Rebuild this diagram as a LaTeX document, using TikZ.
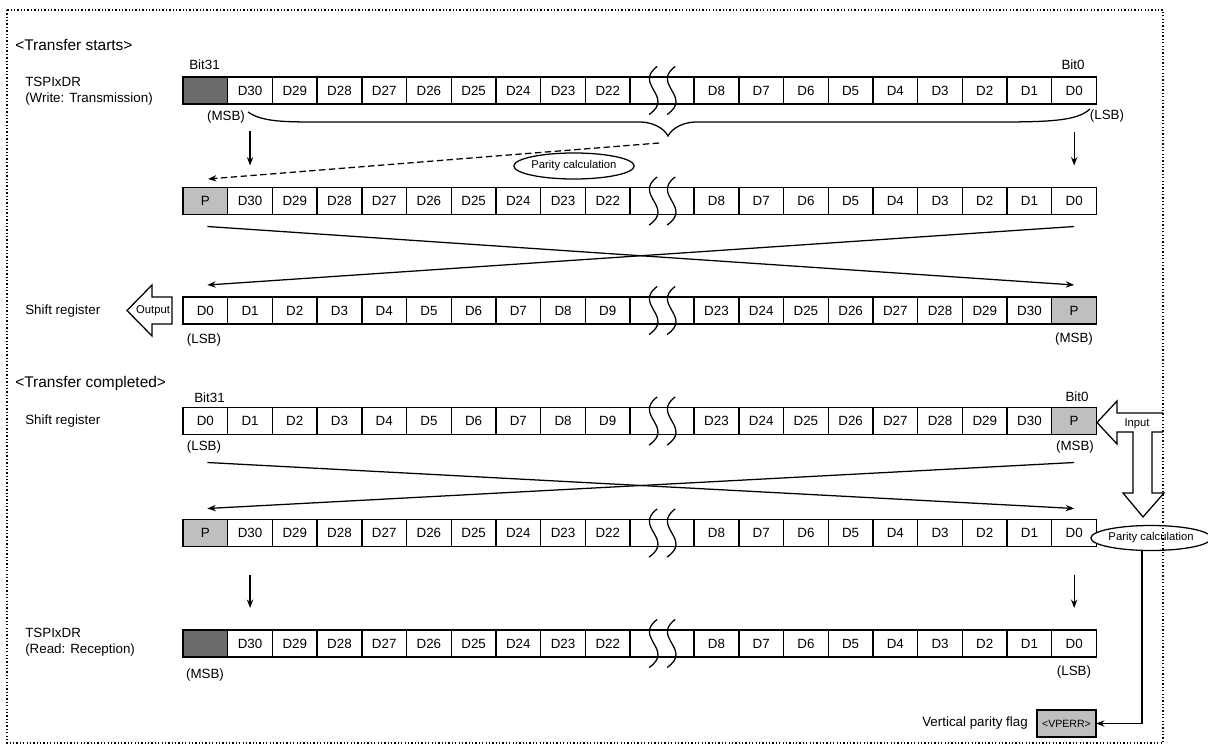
\documentclass[tikz,border=0pt]{standalone}
\usepackage{fontspec}
\setmainfont{Liberation Sans}
\usetikzlibrary{arrows.meta,positioning,shapes.geometric,calc}

\begin{document}
\begin{tikzpicture}[
   x=0.025cm, y=-0.025cm,
   every node/.style={font=\fontsize{9.5}{11.4}\selectfont, inner sep=0pt},
   cell/.style={draw, line width=0.95pt, fill=white, minimum width=1.1175cm,
                minimum height=0.675cm, inner sep=0pt, outer sep=0pt},
   dcell/.style={cell, fill=black!58},
   pcell/.style={cell, fill=black!25},
   gapcell/.style={cell, minimum width=1.6cm},
   head/.style={font=\fontsize{11}{13}\selectfont, anchor=west},
   lbl/.style={anchor=west, align=left},
   small/.style={font=\fontsize{8}{9.6}\selectfont},
   parcalc/.style={draw, ellipse, line width=0.9pt, fill=white, minimum width=2.7cm,
                   minimum height=0.65cm, inner sep=0pt, font=\fontsize{8}{9.6}\selectfont},
   ln/.style={line width=0.9pt},
   arr/.style={ln, -{Stealth[length=6pt, width=4.5pt]}},
   hollow/.style={ln, fill=white, line join=miter}
]
\useasboundingbox (0,0) rectangle (1208,754);

% Transfer starts: data register
\node[head] (start) at (15,45) {<Transfer starts>};
\node[lbl] (txreg) at (25,91) {TSPIxDR\\(Write: Transmission)};
\node[dcell] (a0) at (205.35,90.5) {};
\foreach \t [count=\i, remember=\i as \j (initially 0)] in {D30,D29,D28,D27,D26,D25,D24,D23,D22}
  \node[cell, right=0pt of a\j] (a\i) {\t};
\node[gapcell, right=0pt of a9] (a10) {};
\foreach \t [count=\i from 11, remember=\i as \j (initially 10)] in {D8,D7,D6,D5,D4,D3,D2,D1,D0}
  \node[cell, right=0pt of a\j] (a\i) {\t};
\node[anchor=west] (bitA) at (189,65) {Bit31};
\node (bitA0) at (1073,65) {Bit0};
\node (msbA) at (226,117) {(MSB)};
\node (lsbA) at (1107,116) {(LSB)};
\draw[ln] (248,112) .. controls (262,122) and (285,122) .. (320,122) -- (640,122)
   .. controls (652,122) and (664,128) .. (668,136)
   .. controls (672,128) and (684,122) .. (696,122) -- (1000,122)
   .. controls (1055,122) and (1078,120) .. (1090,109);

% Parity added
\draw[arr, dash pattern=on 4.5pt off 2.5pt] (659,143) -- (208,179);
\node[parcalc] (pcA) at (574,166) {Parity calculation};
\node[pcell] (b0) at (205.35,201) {P};
\foreach \t [count=\i, remember=\i as \j (initially 0)] in {D30,D29,D28,D27,D26,D25,D24,D23,D22}
  \node[cell, right=0pt of b\j] (b\i) {\t};
\node[gapcell, right=0pt of b9] (b10) {};
\foreach \t [count=\i from 11, remember=\i as \j (initially 10)] in {D8,D7,D6,D5,D4,D3,D2,D1,D0}
  \node[cell, right=0pt of b\j] (b\i) {\t};
\draw[arr] ($(a1.south)+(0,27)$) -- ($(b1.north)+(0,-22)$);
\draw[arr] ($(a19.south)+(0,28)$) -- ($(b19.north)+(0,-22)$);

% Shift register (output)
\node[lbl] (shA) at (25,311) {Shift register};
\node[cell] (c0) at (205.35,310.5) {D0};
\foreach \t [count=\i, remember=\i as \j (initially 0)] in {D1,D2,D3,D4,D5,D6,D7,D8,D9}
  \node[cell, right=0pt of c\j] (c\i) {\t};
\node[gapcell, right=0pt of c9] (c10) {};
\foreach \t [count=\i from 11, remember=\i as \j (initially 10)] in {D23,D24,D25,D26,D27,D28,D29,D30}
  \node[cell, right=0pt of c\j] (c\i) {\t};
\node[pcell, right=0pt of c18] (c19) {P};
\node (lsbC) at (204,340) {(LSB)};
\node (msbC) at (1074,339) {(MSB)};
\draw[arr] ($(b0.south)+(2,12)$) -- ($(c19.north)+(0,-12)$);
\draw[arr] ($(b19.south)+(0,12)$) -- ($(c0.north)+(2,-12)$);
\draw[hollow] (172,297) -- (152,297) -- (152,285) -- (127,310.5) -- (152,336)
   -- (152,324) -- (172,324) -- cycle;
\node[small] (outA) at (153,311) {Output};

% Transfer completed: shift register (input)
\node[head] (done) at (15,383) {<Transfer completed>};
\node[lbl] (shB) at (25,421) {Shift register};
\node[cell] (d0) at (205.35,421) {D0};
\foreach \t [count=\i, remember=\i as \j (initially 0)] in {D1,D2,D3,D4,D5,D6,D7,D8,D9}
  \node[cell, right=0pt of d\j] (d\i) {\t};
\node[gapcell, right=0pt of d9] (d10) {};
\foreach \t [count=\i from 11, remember=\i as \j (initially 10)] in {D23,D24,D25,D26,D27,D28,D29,D30}
  \node[cell, right=0pt of d\j] (d\i) {\t};
\node[pcell, right=0pt of d18] (d19) {P};
\node[anchor=west] (bitD) at (194,398) {Bit31};
\node (bitD0) at (1077,397) {Bit0};
\node (lsbD) at (204,447) {(LSB)};
\node (msbD) at (1075,447) {(MSB)};
\draw[hollow] (1163,413) -- (1117,413) -- (1117,401) -- (1097,422.5) -- (1117,444)
   -- (1117,432) -- (1133,432) -- (1133,493) -- (1123,493) -- (1143,517)
   -- (1164,493) -- (1152,493) -- (1152,432) -- (1163,432);
\node[small] (inA) at (1137,424) {Input};

% Parity check
\node[pcell] (e0) at (205.35,533) {P};
\foreach \t [count=\i, remember=\i as \j (initially 0)] in {D30,D29,D28,D27,D26,D25,D24,D23,D22}
  \node[cell, right=0pt of e\j] (e\i) {\t};
\node[gapcell, right=0pt of e9] (e10) {};
\foreach \t [count=\i from 11, remember=\i as \j (initially 10)] in {D8,D7,D6,D5,D4,D3,D2,D1,D0}
  \node[cell, right=0pt of e\j] (e\i) {\t};
\draw[arr] ($(d0.south)+(2,28)$) -- ($(e19.north)+(0,-11)$);
\draw[arr] ($(d19.south)+(0,28)$) -- ($(e0.north)+(2,-11)$);
\node[parcalc, minimum width=2.65cm, minimum height=0.625cm] (pcB) at (1151,538) {Parity calculation};

% Receive data register
\node[lbl] (rxreg) at (25,642) {TSPIxDR\\(Read: Reception)};
\node[dcell] (f0) at (205.35,643.5) {};
\foreach \t [count=\i, remember=\i as \j (initially 0)] in {D30,D29,D28,D27,D26,D25,D24,D23,D22}
  \node[cell, right=0pt of f\j] (f\i) {\t};
\node[gapcell, right=0pt of f9] (f10) {};
\foreach \t [count=\i from 11, remember=\i as \j (initially 10)] in {D8,D7,D6,D5,D4,D3,D2,D1,D0}
  \node[cell, right=0pt of f\j] (f\i) {\t};
\node (msbF) at (205,675) {(MSB)};
\node (lsbF) at (1074,672) {(LSB)};
\draw[arr] ($(e1.south)+(0,28)$) -- ($(f1.north)+(0,-22)$);
\draw[arr] ($(e19.south)+(0,28)$) -- ($(f19.north)+(0,-22)$);

% Parity flag
\node[pcell, minimum width=1.475cm, font=\fontsize{7.5}{9}\selectfont] (vperr) at (1066.5,723.5) {<VPERR>};
\node[left=0.225cm of vperr] (flag) {Vertical parity flag};
\draw[arr] ([xshift=-0.225cm]pcB.south) |- (vperr.east);

% Break marks
\foreach \r in {a,b,c,d,e,f}
  \foreach \dx in {-9,9}
    \draw[ln, shift={($(\r10.center)+(\dx,0)$)}] (4,-24) .. controls (-20,-6) and (22,6) .. (-4,24);

% Frame
\draw[line width=0.9pt, dash pattern=on 0.9pt off 1.5pt] (7,10) rectangle (1163,743);
\end{tikzpicture}
\end{document}
